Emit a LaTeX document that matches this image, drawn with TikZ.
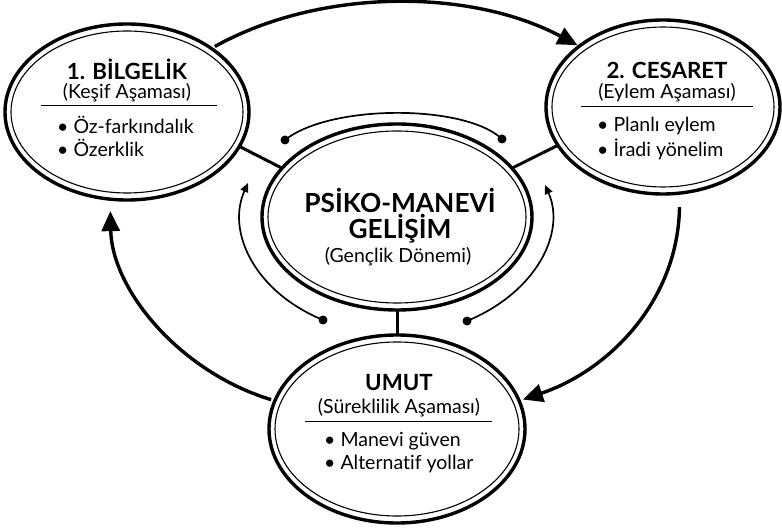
\documentclass[tikz,border=0pt]{standalone}
\usepackage{fontspec}
\setmainfont{Lato}[Ligatures=CommonOff]
\usetikzlibrary{shapes.geometric,arrows.meta}
\tikzset{
  stage/.style={ellipse,draw,line width=3.4pt,inner sep=0pt,outer sep=0pt},
  innerring/.style={line width=1.1pt},
  title/.style={font=\fontsize{22.3}{25}\selectfont\bfseries,inner sep=0pt},
  ctitle/.style={font=\fontsize{26.3}{29}\selectfont\bfseries,inner sep=0pt},
  sub/.style={font=\fontsize{19.5}{22}\selectfont,inner sep=0pt},
  item/.style={font=\fontsize{19.5}{22}\selectfont,inner sep=0pt,anchor=west},
  rule/.style={line width=0.9pt},
  link/.style={line width=3pt},
  bigarrow/.style={line width=3.4pt,-{Triangle[length=20pt,width=18pt]}},
  orbit/.style={line width=1.7pt},
  orbitarrow/.style={line width=1.7pt,-{Triangle[length=9pt,width=8pt]}},
  dot/.style={circle,fill,inner sep=0pt,minimum size=9pt}
}
\begin{document}
\begin{tikzpicture}[x=1pt,y=-1pt]
\useasboundingbox (0,0) rectangle (782,529);
% ellipses
\node[stage,minimum width=244pt,minimum height=176pt] (L) at (127,112) {};
\draw[innerring] (L.center) ellipse (116pt and 81pt);
\node[stage,minimum width=234pt,minimum height=174pt] (R) at (663,107) {};
\draw[innerring] (R.center) ellipse (111pt and 80pt);
\node[stage,minimum width=270pt,minimum height=186pt] (C) at (397,217) {};
\draw[innerring] (C.center) ellipse (129pt and 86pt);
\node[stage,minimum width=256pt,minimum height=188pt] (B) at (397,429) {};
\draw[innerring] (B.center) ellipse (122pt and 87pt);
% left texts
\node[title] (lt) at (127,69) {1. BİLGELİK};
\node[sub] (ls) at (127,93) {(Keşif Aşaması)};
\draw[rule] (41,105) -- (217,105);
\node[item] (l1) at (57,125) {• Öz-farkındalık};
\node[item] (l2) at (57,148) {• Özerklik};
% right texts
\node[title] (rt) at (667,70) {2. CESARET};
\node[sub] (rs) at (667,93) {(Eylem Aşaması)};
\draw[rule] (581,106) -- (753,106);
\node[item] (r1) at (597,126) {• Planlı eylem};
\node[item] (r2) at (597,149) {• İradi yönelim};
% centre texts
\node[ctitle] (c1) at (400,200) {PSİKO-MANEVİ};
\node[ctitle] (c2) at (400,229) {GELİŞİM};
\node[sub] (c3) at (398,257) {(Gençlik Dönemi)};
% bottom texts
\node[title] (bt) at (399,383) {UMUT};
\node[sub] (bs) at (399,408) {(Süreklilik Aşaması)};
\draw[rule] (305,421) -- (492,421);
\node[item] (b1) at (324,441) {• Manevi güven};
\node[item] (b2) at (324,464) {• Alternatif yollar};
% links
\draw[link] (L.-17) -- (C.157);
\draw[link] (R.-160) -- (C.23);
\draw[link] (C.south) -- (B.north);
% big arrows
\draw[bigarrow,shorten <=4pt,shorten >=2pt] (L.37) .. controls (320,-12) and (470,-12) .. (R.144);
\draw[bigarrow,shorten <=14pt,shorten >=4pt] (R.-79) .. controls (678,300) and (610,370) .. (B.13);
\draw[bigarrow,shorten <=4pt,shorten >=12pt] (B.167) .. controls (180,372) and (112,290) .. (L.259);
% orbit arcs around centre
\node[dot] (d1) at (285,140) {};
\node[dot] (d2) at (502,139) {};
\node[dot] (d3) at (323,320) {};
\node[dot] (d4) at (467,321) {};
\coordinate (a1) at (248,183);
\coordinate (a2) at (545,185);
\draw[orbit] (d1.center) .. controls (330,104) and (465,104) .. (d2.center);
\draw[orbitarrow] (d3.center) .. controls (255,292) and (226,232) .. (a1);
\draw[orbitarrow] (d4.center) .. controls (537,292) and (566,232) .. (a2);
\end{tikzpicture}
\end{document}
